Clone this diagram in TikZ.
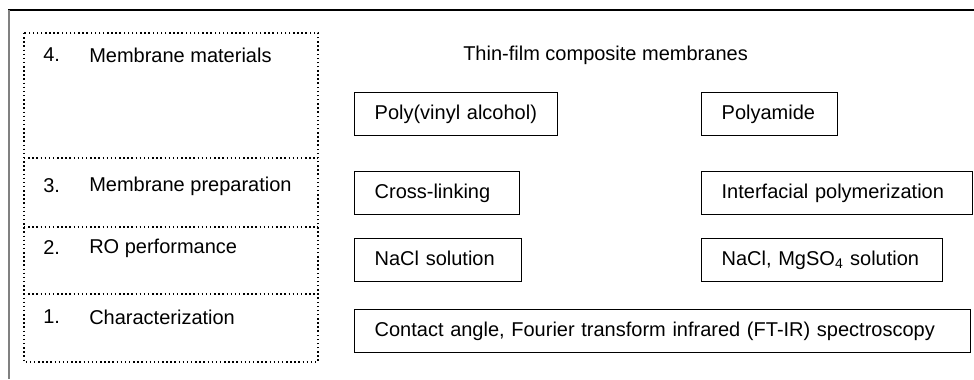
\documentclass[tikz,border=0pt]{standalone}
\usepackage{fontspec}
\setmainfont{Liberation Sans}
\begin{document}
\begin{tikzpicture}[x=0.75pt,y=-0.75pt,
  every node/.style={font=\fontsize{15}{18}\selectfont},
  itembox/.style={draw=black, line width=1pt, anchor=north west, align=left,
    inner xsep=15pt, inner ysep=0pt, minimum height=32.25pt,
    text height=11pt, text depth=3.5pt},
  lbl/.style={anchor=west, inner sep=0pt},
  dotbox/.style={draw=black, line width=1.1pt, dotted}]
\useasboundingbox (0,0) rectangle (974,379);
% outer frame
\draw[black, line width=0.9pt] (8,10) -- (974,10);
\draw[gray, line width=1.5pt] (8.5,10) -- (8.5,379);
% left dotted column
\draw[dotbox] (24,33) rectangle (318,362);
\draw[dotbox] (24,158) -- (318,158);
\draw[dotbox] (24,227) -- (318,227);
\draw[dotbox] (24,294) -- (318,294);
\node[lbl] (n4) at (43,55) {4.};
\node[lbl] (t4) at (89,55) {Membrane materials};
\node[lbl] (n3) at (43,186) {3.};
\node[lbl] (t3) at (89,186) {Membrane preparation};
\node[lbl] (n2) at (43,248) {2.};
\node[lbl] (t2) at (89,248) {RO performance};
\node[lbl] (n1) at (43,317) {1.};
\node[lbl] (t1) at (89,317) {Characterization};
% right side
\node[lbl] (tfc) at (463,55) {Thin-film composite membranes};
\node[itembox, text width=122.25pt] (pva) at (354,92) {Poly(vinyl alcohol)};
\node[itembox, text width=72pt] (pa) at (701,92) {Polyamide};
\node[itembox, text width=93.75pt] (cl) at (354,171) {Cross-linking};
\node[itembox, text width=173.25pt] (ip) at (701,171) {Interfacial polymerization};
\node[itembox, text width=95.25pt] (nacl) at (354,238) {NaCl solution};
\node[itembox, text width=150.75pt] (mg) at (701,238) {NaCl, MgSO\textsubscript{4} solution};
\node[itembox, text width=432pt] (ca) at (354,309) {Contact angle, Fourier transform infrared (FT-IR) spectroscopy};
\end{tikzpicture}
\end{document}
